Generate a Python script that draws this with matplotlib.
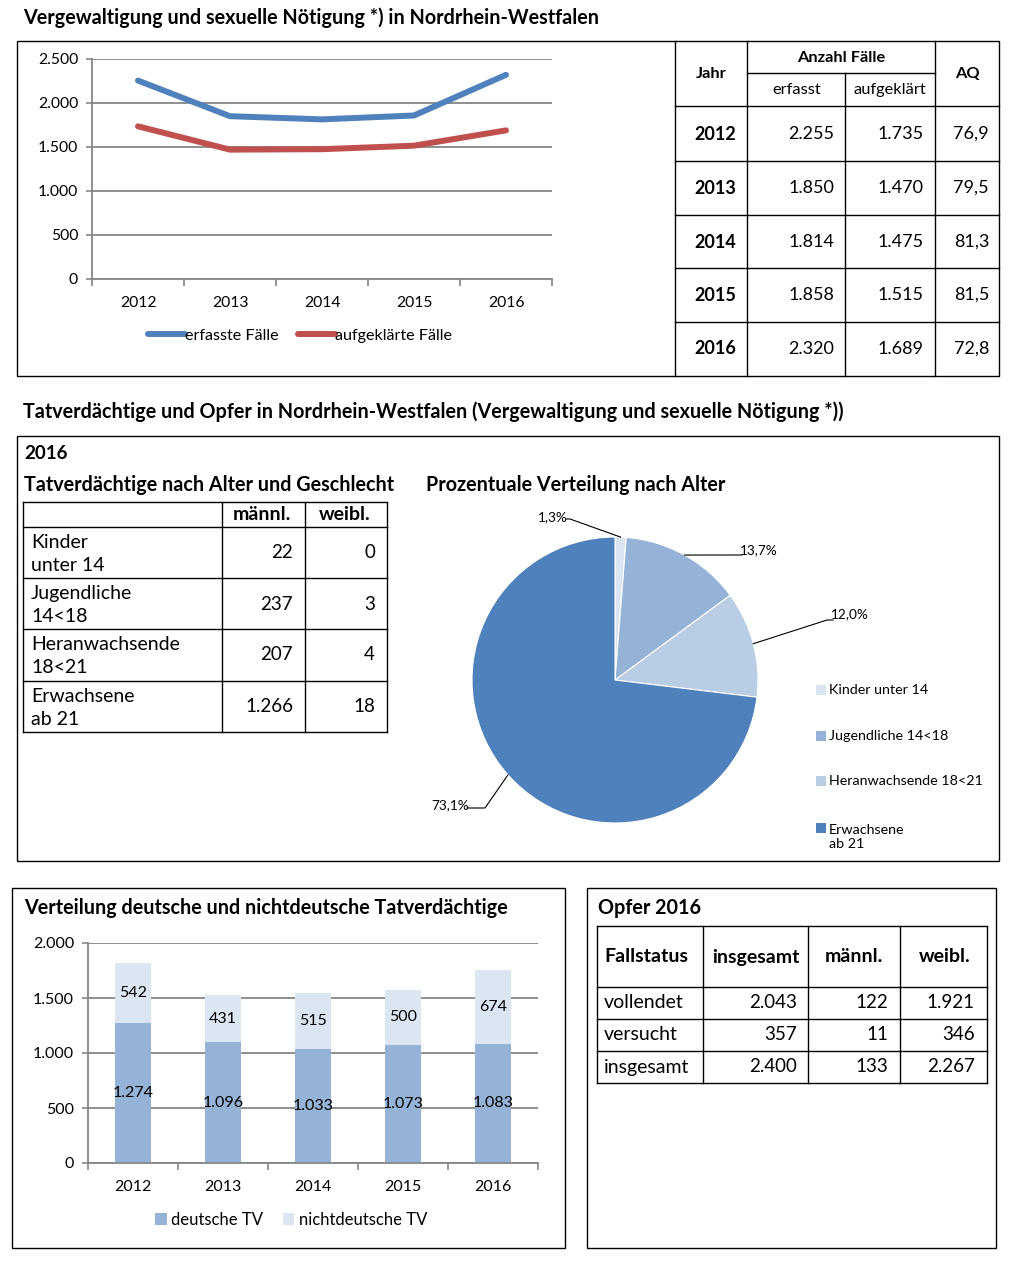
import matplotlib
matplotlib.use('Agg')
import matplotlib.pyplot as plt
from matplotlib.patches import Rectangle
from matplotlib.lines import Line2D
from matplotlib.ticker import FuncFormatter, FixedLocator
import numpy as np

plt.rcParams['font.family'] = ['Lato', 'DejaVu Sans']

# ---------------- data ----------------
years = ['2012', '2013', '2014', '2015', '2016']
erfasst = [2255, 1850, 1814, 1858, 2320]
aufgeklaert = [1735, 1470, 1475, 1515, 1689]
aq = [76.9, 79.5, 81.3, 81.5, 72.8]

age_groups = ['Kinder\nunter 14', 'Jugendliche\n14<18', 'Heranwachsende\n18<21', 'Erwachsene\nab 21']
tv_maennl = [22, 237, 207, 1266]
tv_weibl = [0, 3, 4, 18]
pie_labels = ['Kinder unter 14', 'Jugendliche 14<18', 'Heranwachsende 18<21', 'Erwachsene\nab 21']
pie_colors = ['#DCE6F2', '#95B3D7', '#B9CDE5', '#4F81BD']

deutsche = [1274, 1096, 1033, 1073, 1083]
nichtdeutsche = [542, 431, 515, 500, 674]

opfer_status = ['vollendet', 'versucht', 'insgesamt']
opfer_ges = [2043, 357, 2400]
opfer_m = [122, 11, 133]
opfer_w = [1921, 346, 2267]


def de_int(v):
    return f"{int(v):,}".replace(',', '.')


def de_dec(v):
    return f"{v:.1f}".replace('.', ',')


# ---------------- layout helpers ----------------
W, H = 1022, 1261
fig = plt.figure(figsize=(W / 100, H / 100), dpi=100)


def fx(x):
    return x / W


def fy(y):
    return 1 - y / H


def ax_px(x0, y0, x1, y1):
    return fig.add_axes([fx(x0), fy(y1), (x1 - x0) / W, (y1 - y0) / H])


def box(x0, y0, x1, y1, lw=1.0):
    fig.add_artist(Rectangle((fx(x0), fy(y1)), (x1 - x0) / W, (y1 - y0) / H,
                             transform=fig.transFigure, fill=False, ec='black', lw=lw))


def hline(x0, x1, y, lw=1.0):
    fig.add_artist(Line2D([fx(x0), fx(x1)], [fy(y), fy(y)], transform=fig.transFigure,
                          color='black', lw=lw))


def vline(x, y0, y1, lw=1.0):
    fig.add_artist(Line2D([fx(x), fx(x)], [fy(y0), fy(y1)], transform=fig.transFigure,
                          color='black', lw=lw))


def txt(x, y, s, **kw):
    kw.setdefault('va', 'center')
    fig.text(fx(x), fy(y), s, **kw)


GRAY = '#868686'
TITLE = 14.2
fmt = FuncFormatter(lambda v, p: de_int(v))

# ---------------- titles ----------------
txt(23, 18, 'Vergewaltigung und sexuelle Nötigung *) in Nordrhein-Westfalen', fontsize=TITLE, fontweight='bold')
txt(23, 412, 'Tatverdächtige und Opfer in Nordrhein-Westfalen (Vergewaltigung und sexuelle Nötigung *))',
    fontsize=TITLE, fontweight='bold')

# ---------------- box 1: line chart + table ----------------
box(17, 41, 999, 376)
ax1 = ax_px(92, 59, 552, 279)
x = np.arange(len(years))
ax1.plot(x, erfasst, color='#4F81BD', lw=4.3, solid_capstyle='round', solid_joinstyle='round',
         label='erfasste Fälle')
ax1.plot(x, aufgeklaert, color='#C0504D', lw=4.3, solid_capstyle='round', solid_joinstyle='round',
         label='aufgeklärte Fälle')
ax1.set_xlim(-0.5, 4.5)
ax1.set_ylim(0, 2500)
ax1.set_yticks(range(0, 2501, 500))
ax1.yaxis.set_major_formatter(fmt)
ax1.set_xticks(x)
ax1.set_xticklabels(years)
ax1.xaxis.set_minor_locator(FixedLocator(np.arange(-0.5, 4.6, 1)))
ax1.tick_params(axis='x', which='major', length=0, pad=12, labelsize=11.3)
ax1.tick_params(axis='x', which='minor', length=5, color=GRAY, width=1.2)
ax1.tick_params(axis='y', length=4, color=GRAY, width=1.2, pad=6, labelsize=11.3)
ax1.yaxis.grid(True, color=GRAY, lw=1.3)
ax1.set_axisbelow(True)
for s in ['top', 'right']:
    ax1.spines[s].set_visible(False)
for s in ['left', 'bottom']:
    ax1.spines[s].set_color(GRAY)
    ax1.spines[s].set_linewidth(1.3)
ax1.legend(loc='center', bbox_to_anchor=(fx(300), fy(336)), bbox_transform=fig.transFigure, ncol=2,
           frameon=False, handlelength=2.3, handletextpad=0.0, columnspacing=1.2, fontsize=11.6)

# table 1
for xv in [675, 747, 935]:
    vline(xv, 41, 376)
vline(845, 73, 376)
hline(747, 935, 73)
for yv in [106, 161, 215, 268, 322]:
    hline(675, 999, yv)
txt(711, 74, 'Jahr', ha='center', fontsize=11.8, fontweight='bold')
txt(841, 58, 'Anzahl Fälle', ha='center', fontsize=11.8, fontweight='bold')
txt(797, 90, 'erfasst', ha='center', fontsize=11.8)
txt(890, 90, 'aufgeklärt', ha='center', fontsize=11.8)
txt(967, 74, 'AQ', ha='center', fontsize=11.8, fontweight='bold')
row_y = [134, 188, 242, 295, 349]
for i, yv in enumerate(row_y):
    txt(715, yv, years[i], ha='center', fontsize=13, fontweight='bold')
    txt(834, yv, de_int(erfasst[i]), ha='right', fontsize=13)
    txt(924, yv, de_int(aufgeklaert[i]), ha='right', fontsize=13)
    txt(989, yv, de_dec(aq[i]), ha='right', fontsize=13)

# ---------------- box 2: suspects table + pie ----------------
box(17, 436, 999, 861)
txt(24, 453, '2016', fontsize=13.5, fontweight='bold')
txt(24, 485, 'Tatverdächtige nach Alter und Geschlecht', fontsize=TITLE, fontweight='bold')
txt(426, 485, 'Prozentuale Verteilung nach Alter', fontsize=TITLE, fontweight='bold')

hline(23, 387, 502)
for yv in [527, 578, 629, 681, 732]:
    hline(23, 387, yv)
vline(23, 502, 732)
for xv in [222, 305, 387]:
    vline(xv, 502, 732)
txt(262, 515, 'männl.', ha='center', fontsize=14, fontweight='bold')
txt(345, 515, 'weibl.', ha='center', fontsize=14, fontweight='bold')
tv_rows = [553, 604, 655, 707]
for i, yv in enumerate(tv_rows):
    txt(31, yv + 1, age_groups[i], ha='left', fontsize=14, linespacing=1.4)
    txt(293, yv, de_int(tv_maennl[i]), ha='right', fontsize=13.5)
    txt(375, yv, de_int(tv_weibl[i]), ha='right', fontsize=13.5)

# pie
pie_vals = [m + w for m, w in zip(tv_maennl, tv_weibl)]
total = sum(pie_vals)
axp = ax_px(415, 480, 815, 880)
wedges, _ = axp.pie(pie_vals, colors=pie_colors, radius=143, startangle=90, counterclock=False,
                    wedgeprops=dict(edgecolor='white', linewidth=0.8), frame=True)
axp.axis('off')
axp.set_xlim(-200, 200)
axp.set_ylim(-200, 200)
# label offsets (px, relative to pie centre): elbow point, text point, ha
label_layout = [
    ((-45, 161), (-47, 163), 'right'),
    ((123, 125), (125, 130), 'left'),
    ((212, 60), (216, 66), 'left'),
    ((-130, -128), (-146, -125), 'right'),
]
for w, v, (elbow, tpos, ha) in zip(wedges, pie_vals, label_layout):
    ang = np.deg2rad((w.theta1 + w.theta2) / 2)
    ex, ey = 143 * np.cos(ang), 143 * np.sin(ang)
    axp.plot([ex, elbow[0], tpos[0] + (2 if ha == 'left' else -2)],
             [ey, elbow[1], elbow[1]], color='black', lw=0.8, clip_on=False)
    axp.text(tpos[0], tpos[1], de_dec(v / total * 100) + '%', ha=ha, va='center', fontsize=9.8,
             clip_on=False)

# pie legend
leg_y = [690, 736, 781, 837]
for w, lab, yv in zip(wedges, pie_labels, leg_y):
    sq_y = yv if '\n' not in lab else 828
    fig.add_artist(Rectangle((fx(816), fy(sq_y + 5)), 10 / W, 10 / H, transform=fig.transFigure,
                             facecolor=w.get_facecolor(), edgecolor='none'))
    txt(829, yv, lab, ha='left', fontsize=10.3, linespacing=1.3)

# ---------------- box 3: stacked bar ----------------
box(12, 888, 565, 1248)
txt(24, 908, 'Verteilung deutsche und nichtdeutsche Tatverdächtige', fontsize=TITLE, fontweight='bold')
ax3 = ax_px(88, 943, 538, 1163)
b1 = ax3.bar(x, deutsche, width=0.4, color='#95B3D7', label='deutsche TV', zorder=2)
b2 = ax3.bar(x, nichtdeutsche, width=0.4, bottom=deutsche, color='#DCE6F2', label='nichtdeutsche TV',
             zorder=2)
ax3.bar_label(b1, labels=[de_int(v) for v in deutsche], label_type='center', fontsize=11.5)
ax3.bar_label(b2, labels=[de_int(v) for v in nichtdeutsche], label_type='center', fontsize=11.5)
ax3.set_xlim(-0.5, 4.5)
ax3.set_ylim(0, 2000)
ax3.set_yticks(range(0, 2001, 500))
ax3.yaxis.set_major_formatter(fmt)
ax3.set_xticks(x)
ax3.set_xticklabels(years)
ax3.xaxis.set_minor_locator(FixedLocator(np.arange(-0.5, 4.6, 1)))
ax3.tick_params(axis='x', which='major', length=0, pad=12, labelsize=11.5)
ax3.tick_params(axis='x', which='minor', length=5, color=GRAY, width=1.2)
ax3.tick_params(axis='y', length=4, color=GRAY, width=1.2, pad=6, labelsize=11.5)
ax3.yaxis.grid(True, color=GRAY, lw=1.3, zorder=3)
for s in ['top', 'right']:
    ax3.spines[s].set_visible(False)
for s in ['left', 'bottom']:
    ax3.spines[s].set_color(GRAY)
    ax3.spines[s].set_linewidth(1.3)
ax3.legend(loc='center', bbox_to_anchor=(fx(291), fy(1220)), bbox_transform=fig.transFigure, ncol=2,
           frameon=False, handlelength=0.7, handleheight=0.7, handletextpad=0.25, columnspacing=1.2,
           fontsize=12)

# ---------------- box 4: victims table ----------------
box(587, 888, 996, 1248)
txt(598, 908, 'Opfer 2016', fontsize=TITLE, fontweight='bold')
for yv in [926, 987, 1019, 1051, 1083]:
    hline(597, 987, yv)
for xv in [597, 703, 808, 900, 987]:
    vline(xv, 926, 1083)
txt(604, 957, 'Fallstatus', ha='left', fontsize=14, fontweight='bold')
txt(756, 957, 'insgesamt', ha='center', fontsize=14, fontweight='bold')
txt(854, 957, 'männl.', ha='center', fontsize=14, fontweight='bold')
txt(945, 957, 'weibl.', ha='center', fontsize=14, fontweight='bold')
op_rows = [1003, 1035, 1067]
for i, yv in enumerate(op_rows):
    txt(604, yv, opfer_status[i], ha='left', fontsize=14)
    txt(797, yv, de_int(opfer_ges[i]), ha='right', fontsize=13.5)
    txt(888, yv, de_int(opfer_m[i]), ha='right', fontsize=13.5)
    txt(975, yv, de_int(opfer_w[i]), ha='right', fontsize=13.5)

fig.savefig('out.png', dpi=100)
